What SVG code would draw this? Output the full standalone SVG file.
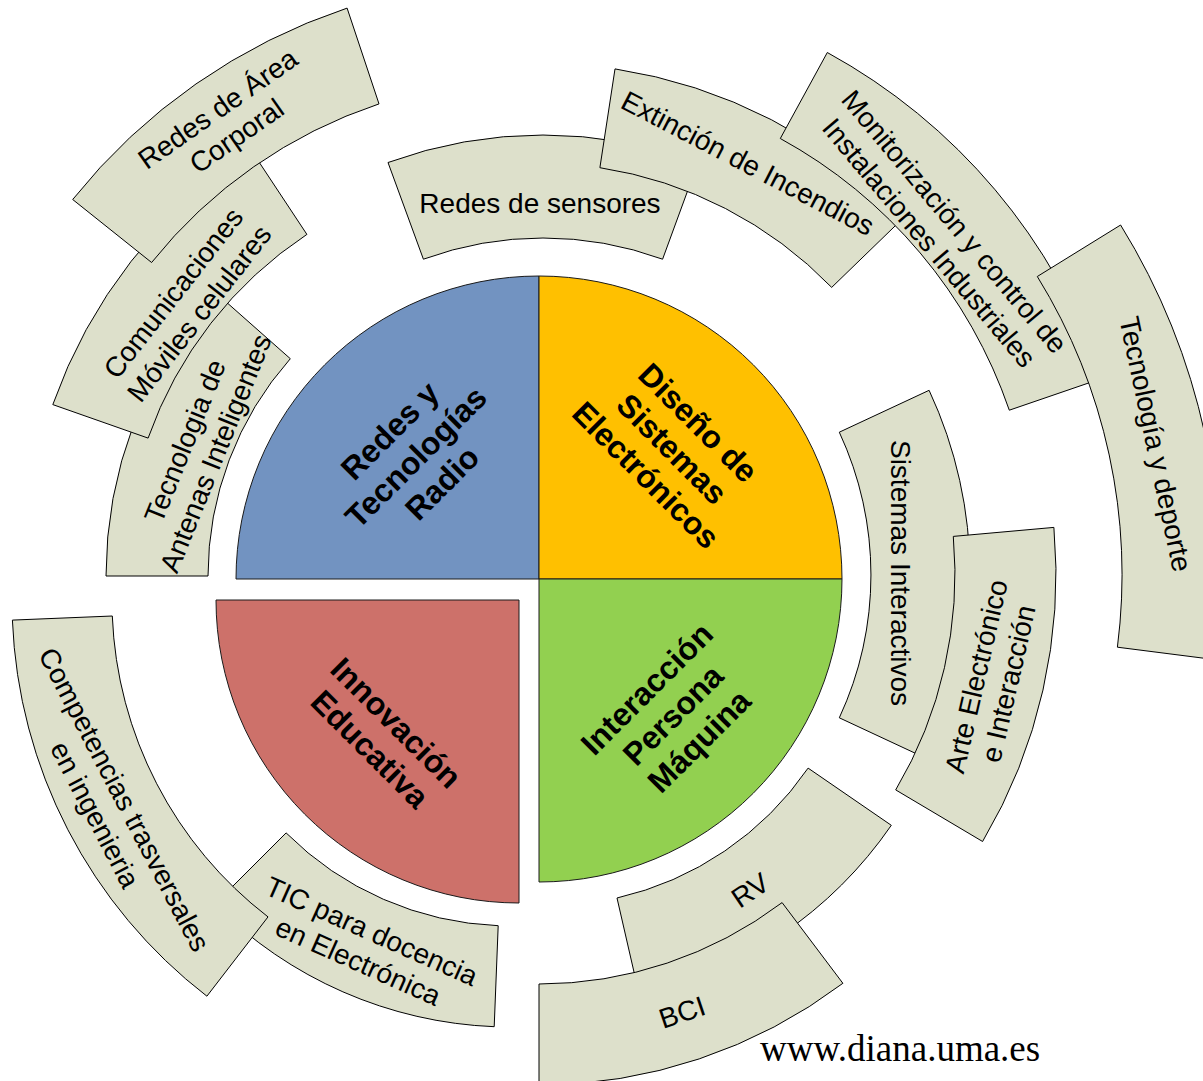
<svg xmlns="http://www.w3.org/2000/svg" width="1203" height="1081" viewBox="0 0 1203 1081">
<style>
.box{fill:#DDE0CB;stroke:#000;stroke-width:1}
.q{stroke:#1a1a1a;stroke-width:1}
.lbl{font-family:"Liberation Sans",Arial,sans-serif;font-size:28px;fill:#000;text-anchor:middle}
.core{font-family:"Liberation Sans",Arial,sans-serif;font-size:32px;font-weight:bold;fill:#000;text-anchor:middle}
.web{font-family:"Liberation Serif","Times New Roman",serif;font-size:37px;fill:#000}
</style>
<rect width="1203" height="1081" fill="#fff"/>
<g id="core-redes">
<path class="q" fill="#7293C1" d="M539,579 L236,579 A303,303 0 0 1 539,276 Z"/>
<text class="core" transform="translate(416,457) rotate(-45)"><tspan x="0" y="-26">Redes y</tspan><tspan x="0" y="11">Tecnologías</tspan><tspan x="0" y="48">Radio</tspan></text>
</g>
<g id="core-diseno">
<path class="q" fill="#FFC000" d="M539,579 L539,276 A303,303 0 0 1 842,579 Z"/>
<text class="core" transform="translate(672,449) rotate(45)"><tspan x="0" y="-26">Diseño de</tspan><tspan x="0" y="11">Sistemas</tspan><tspan x="0" y="48">Electrónicos</tspan></text>
</g>
<g id="core-interaccion">
<path class="q" fill="#92D050" d="M539,579 L842,579 A303,303 0 0 1 539,882 Z"/>
<text class="core" transform="translate(673,715) rotate(-45)"><tspan x="0" y="-26">Interacción</tspan><tspan x="0" y="11">Persona</tspan><tspan x="0" y="48">Máquina</tspan></text>
</g>
<g id="core-innovacion">
<path class="q" fill="#CD716A" d="M519,600 L519,903 A303,303 0 0 1 216,600 Z"/>
<text class="core" transform="translate(383,736) rotate(45)"><tspan x="0" y="-7.5">Innovación</tspan><tspan x="0" y="29.5">Educativa</tspan></text>
</g>
<g id="antenas">
<path class="box" d="M106,576 A430,430 0 0 1 213.9,291.1 L290.3,358.7 A328,328 0 0 0 208,576 Z"/>
<text class="lbl" transform="translate(200,447) rotate(-68)"><tspan x="0" y="-6.5">Tecnologia de</tspan><tspan x="0" y="26.5">Antenas Inteligentes</tspan></text>
</g>
<g id="comunicaciones">
<path class="box" d="M52.8,404.6 A507,507 0 0 1 251.2,150.2 L306.9,234.4 A406,406 0 0 0 148.1,438.1 Z"/>
<text class="lbl" transform="translate(186,303) rotate(-52)"><tspan x="0" y="-6.5">Comunicaciones</tspan><tspan x="0" y="26.5">Móviles celulares</tspan></text>
</g>
<g id="redes-area-corporal">
<path class="box" d="M72.7,199.5 A589,589 0 0 1 347.1,8.1 L379,103.9 A488,488 0 0 0 151.6,262.5 Z"/>
<text class="lbl" transform="translate(227,122) rotate(-35)"><tspan x="0" y="-6.5">Redes de Área</tspan><tspan x="0" y="26.5">Corporal</tspan></text>
</g>
<g id="redes-sensores">
<path class="box" d="M388,162.5 A451,451 0 0 1 698,162.5 L662.6,259.2 A348,348 0 0 0 423.4,259.2 Z"/>
<text class="lbl" x="540" y="213">Redes de sensores</text>
</g>
<g id="extincion">
<path class="box" d="M615,68.9 A509,509 0 0 1 903.5,217.8 L831.7,287.4 A409,409 0 0 0 599.9,167.7 Z"/>
<text class="lbl" transform="translate(748,163) rotate(27.5)"><tspan x="0" y="10">Extinción de Incendios</tspan></text>
</g>
<g id="monitorizacion">
<path class="box" d="M827.3,52.5 A590,590 0 0 1 1102,378.4 L1009.3,410.2 A492,492 0 0 0 780.3,138.5 Z"/>
<text class="lbl" transform="translate(942,232) rotate(50)"><tspan x="0" y="-6.5">Monitorización y control de</tspan><tspan x="0" y="26.5">Instalaciones Industriales</tspan></text>
</g>
<g id="tecnologia-deporte">
<path class="box" d="M1120.6,225 A666,666 0 0 1 1214.6,659.6 L1117.4,647.2 A568,568 0 0 0 1037.3,276.5 Z"/>
<text class="lbl" transform="translate(1156,444) rotate(78)"><tspan x="0" y="10">Tecnología y deporte</tspan></text>
</g>
<g id="sistemas-interactivos">
<path class="box" d="M929.1,390.3 A437,437 0 0 1 929.1,759.7 L839.3,717.8 A338,338 0 0 0 839.3,432.2 Z"/>
<text class="lbl" transform="translate(901,573) rotate(90)"><tspan x="0" y="10">Sistemas Interactivos</tspan></text>
</g>
<g id="arte-electronico">
<path class="box" d="M1053.9,527.4 A524,524 0 0 1 982.6,841.5 L895.7,789.9 A423,423 0 0 0 953.3,536.4 Z"/>
<text class="lbl" transform="translate(992,680) rotate(-77)"><tspan x="0" y="-6.5">Arte Electrónico</tspan><tspan x="0" y="26.5">e Interacción</tspan></text>
</g>
<g id="rv">
<path class="box" d="M891.3,825.3 A419,419 0 0 1 639.6,996.4 L617,898 A318,318 0 0 0 808.1,768.1 Z"/>
<text class="lbl" transform="translate(750,890) rotate(-34)"><tspan x="0" y="10">RV</tspan></text>
</g>
<g id="bci">
<path class="box" d="M842.9,983.3 A505,505 0 0 1 539,1085 L539,984 A404,404 0 0 0 782.1,902.6 Z"/>
<text class="lbl" transform="translate(682,1012) rotate(-18.5)"><tspan x="0" y="10">BCI</tspan></text>
</g>
<g id="tic-docencia">
<path class="box" d="M494.2,1026.7 A419,419 0 0 1 214.7,904.3 L286.1,832.9 A318,318 0 0 0 498.2,925.7 Z"/>
<text class="lbl" transform="translate(365,946) rotate(24)"><tspan x="0" y="-6.5">TIC para docencia</tspan><tspan x="0" y="26.5">en Electrónica</tspan></text>
</g>
<g id="competencias">
<path class="box" d="M206.9,996.2 A500,500 0 0 1 12.4,620.1 L112.3,616 A400,400 0 0 0 268,916.9 Z"/>
<text class="lbl" transform="translate(110,807) rotate(62.5)"><tspan x="0" y="-6.5">Competencias trasversales</tspan><tspan x="0" y="26.5">en ingenieria</tspan></text>
</g>
<text class="web" x="760" y="1061">www.diana.uma.es</text>
</svg>
